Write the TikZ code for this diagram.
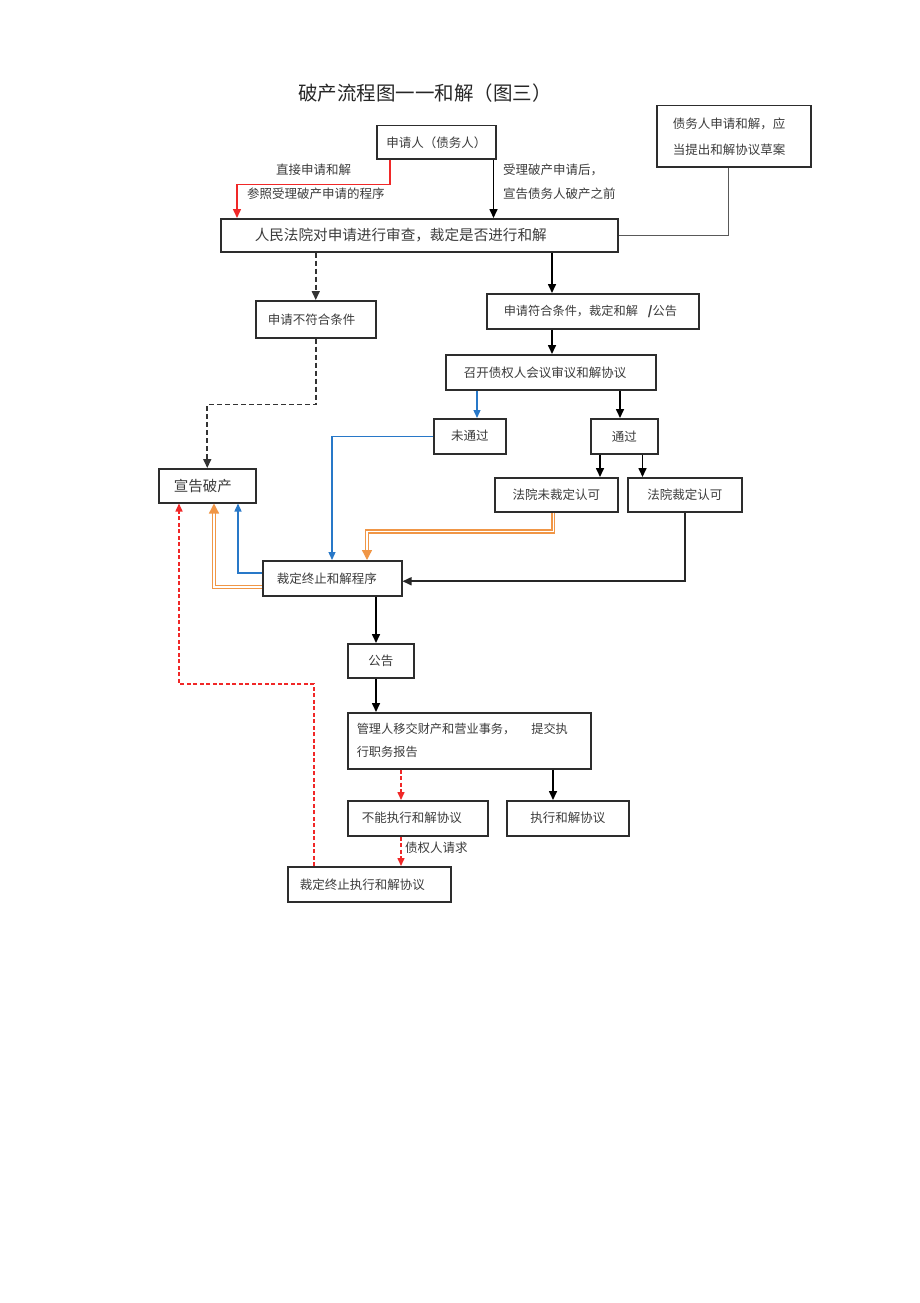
\documentclass[tikz,border=0pt]{standalone}
\usepackage{fontspec}
\setmainfont{Noto Sans CJK SC}
\usetikzlibrary{arrows.meta,calc}
\definecolor{tx}{RGB}{60,60,60}
\definecolor{bd}{RGB}{45,45,45}
\definecolor{bl}{RGB}{40,120,200}
\definecolor{og}{RGB}{240,150,70}
\definecolor{rd}{RGB}{240,40,40}
\begin{document}
\begin{tikzpicture}[x=1pt,y=-1pt,
  box/.style={draw=bd, line width=1.5pt, anchor=north west, text=tx,
    font=\fontsize{12.5}{15}\selectfont, inner sep=0pt, align=center},
  lbox/.style={box, align=left},
  lbl/.style={text=tx, font=\fontsize{12.5}{15}\selectfont, inner sep=0pt, anchor=west},
  arr/.style={draw=black, line width=1.6pt, -{Triangle[length=9pt,width=8pt]}},
  darr/.style={arr, dash pattern=on 5pt off 3pt, draw=black!80},
  barr/.style={draw=bl, line width=1.3pt, -{Triangle[length=8pt,width=7pt]}},
  oarr/.style={draw=og, line width=1.3pt, double=white, double distance=1.5pt, -{Triangle[length=10pt,width=10pt]}},
  rarr/.style={draw=rd, line width=1.5pt, dash pattern=on 4pt off 2.5pt, -{Triangle[length=8pt,width=7pt]}},
  redarr/.style={draw=rd, line width=1.5pt, -{Triangle[length=9pt,width=8pt]}},
  gline/.style={draw=black!65, line width=1.3pt}]
\fill[white] (0,0) rectangle (920,1303);
\useasboundingbox (0,0) rectangle (920,1303);

% title
\node[text=black!85, font=\fontsize{19.5}{22}\selectfont, inner sep=0pt, anchor=west] (title) at (298,93) {破产流程图一一和解（图三）};

% boxes
\node[box, minimum width=119pt, minimum height=33pt] (app) at (376,125) {申请人（债务人）};
\node[lbox, text width=122pt, inner xsep=16pt, minimum height=61pt, font=\fontsize{12.5}{26}\selectfont] (debt) at (656,105) {债务人申请和解，应\\当提出和解协议草案};
\node[lbox, text width=329pt, inner xsep=34pt, minimum height=33pt, font=\fontsize{14.6}{17}\selectfont] (court) at (220,218) {人民法院对申请进行审查，裁定是否进行和解};
\node[lbox, text width=96pt, inner xsep=12pt, minimum height=37pt] (notok) at (255,300) {申请不符合条件};
\node[lbox, text width=190pt, inner xsep=11pt, minimum height=35pt, font=\fontsize{12.2}{15}\selectfont] (ok) at (486,293) {\hspace{6pt}申请符合条件，裁定和解\hspace{10pt}\textbf{\textit{/}}公告};
\node[lbox, text width=174pt, inner xsep=18pt, minimum height=35pt] (meet) at (445,354) {召开债权人会议审议和解协议};
\node[box, minimum width=72pt, minimum height=35pt] (fail) at (433,418) {未通过};
\node[box, minimum width=67pt, minimum height=35pt] (pass) at (590,418) {通过};
\node[lbox, text width=67pt, inner xsep=15pt, minimum height=34pt, font=\fontsize{14.5}{17}\selectfont] (bankrupt) at (158,468) {宣告破产};
\node[box, minimum width=123pt, minimum height=34pt] (nocourt) at (494,477) {法院未裁定认可};
\node[box, minimum width=114pt, minimum height=34pt] (yescourt) at (627,477) {法院裁定认可};
\node[lbox, text width=111pt, inner xsep=14pt, minimum height=35pt] (term) at (262,560) {裁定终止和解程序};
\node[box, minimum width=66pt, minimum height=34pt] (notice) at (347,643) {公告};
\node[lbox, text width=225pt, inner xsep=9pt, minimum height=56pt, font=\fontsize{12.2}{23}\selectfont] (admin) at (347,712) {管理人移交财产和营业事务，\hspace{16pt}提交执\\行职务报告};
\node[lbox, text width=112pt, inner xsep=14pt, minimum height=35pt] (cannot) at (347,800) {不能执行和解协议};
\node[box, minimum width=122pt, minimum height=35pt] (exec) at (506,800) {执行和解协议};
\node[lbox, text width=139pt, inner xsep=12pt, minimum height=35pt] (stop) at (287,866) {裁定终止执行和解协议};

% connectors
\draw[redarr] ($(app.south west)+(14,0)$) -- ++(0,25) -| ($(court.north west)+(17,0)$);
\draw[arr] ($(app.south east)+(-3,0)$) coordinate (c1) -- (c1 |- court.north);
\draw[gline] ($(debt.south)+(-5,0)$) coordinate (cd) -- (cd |- court.east) -- (court.east);
\draw[darr] (notok.north |- court.south) -- (notok.north);
\draw[arr] ($(court.south west)+(332,0)$) coordinate (c3) -- (c3 |- ok.north);
\draw[arr] (c3 |- ok.south) -- (c3 |- meet.north);
\draw[darr] (notok.south) -- ++(0,66) -| (bankrupt.north);
\draw[barr] ($(fail.north west)+(44,0)$) coordinate (c4) (c4 |- meet.south) -- (c4);
\draw[arr] ($(pass.north west)+(30,0)$) coordinate (c4b) (c4b |- meet.south) -- (c4b);
\draw[arr] ($(pass.south west)+(10,0)$) coordinate (c5) -- (c5 |- nocourt.north);
\draw[arr] ($(pass.south east)+(-16,0)$) coordinate (c6) -- (c6 |- yescourt.north);
\draw[barr] (fail.west) -| ($(term.north west)+(70,0)$);
\draw[oarr] ($(nocourt.south)+(-3,0)$) -- ++(0,19) -| ($(term.north west)+(105,0)$);
\draw[arr, draw=black!85] (yescourt.south) |- ($(term.east)+(0,3)$);
\draw[barr] ($(term.north west)+(0,13)$) -| ($(bankrupt.south west)+(80,0)$);
\draw[oarr] ($(term.north west)+(0,27)$) -| ($(bankrupt.south west)+(56,0)$);
\draw[arr] ($(term.south west)+(114,0)$) coordinate (c7) -- (c7 |- notice.north);
\draw[arr] (c7 |- notice.south) -- (c7 |- admin.north);
\draw[rarr] ($(admin.south west)+(54,0)$) coordinate (c8) -- (c8 |- cannot.north);
\draw[arr] ($(admin.south west)+(206,0)$) coordinate (c9) -- (c9 |- exec.north);
\draw[rarr] (c8 |- cannot.south) -- (c8 |- stop.north);
\draw[rarr] ($(stop.north west)+(27,0)$) -- ++(0,-182) -| ($(bankrupt.south west)+(21,0)$);

% labels
\node[lbl] (l1) at (276,170) {直接申请和解};
\node[lbl] (l2) at (247,194) {参照受理破产申请的程序};
\node[lbl] (l3) at (503,170) {受理破产申请后，};
\node[lbl] (l4) at (503,194) {宣告债务人破产之前};
\node[lbl] (l5) at (405,848) {债权人请求};
\end{tikzpicture}
\end{document}
